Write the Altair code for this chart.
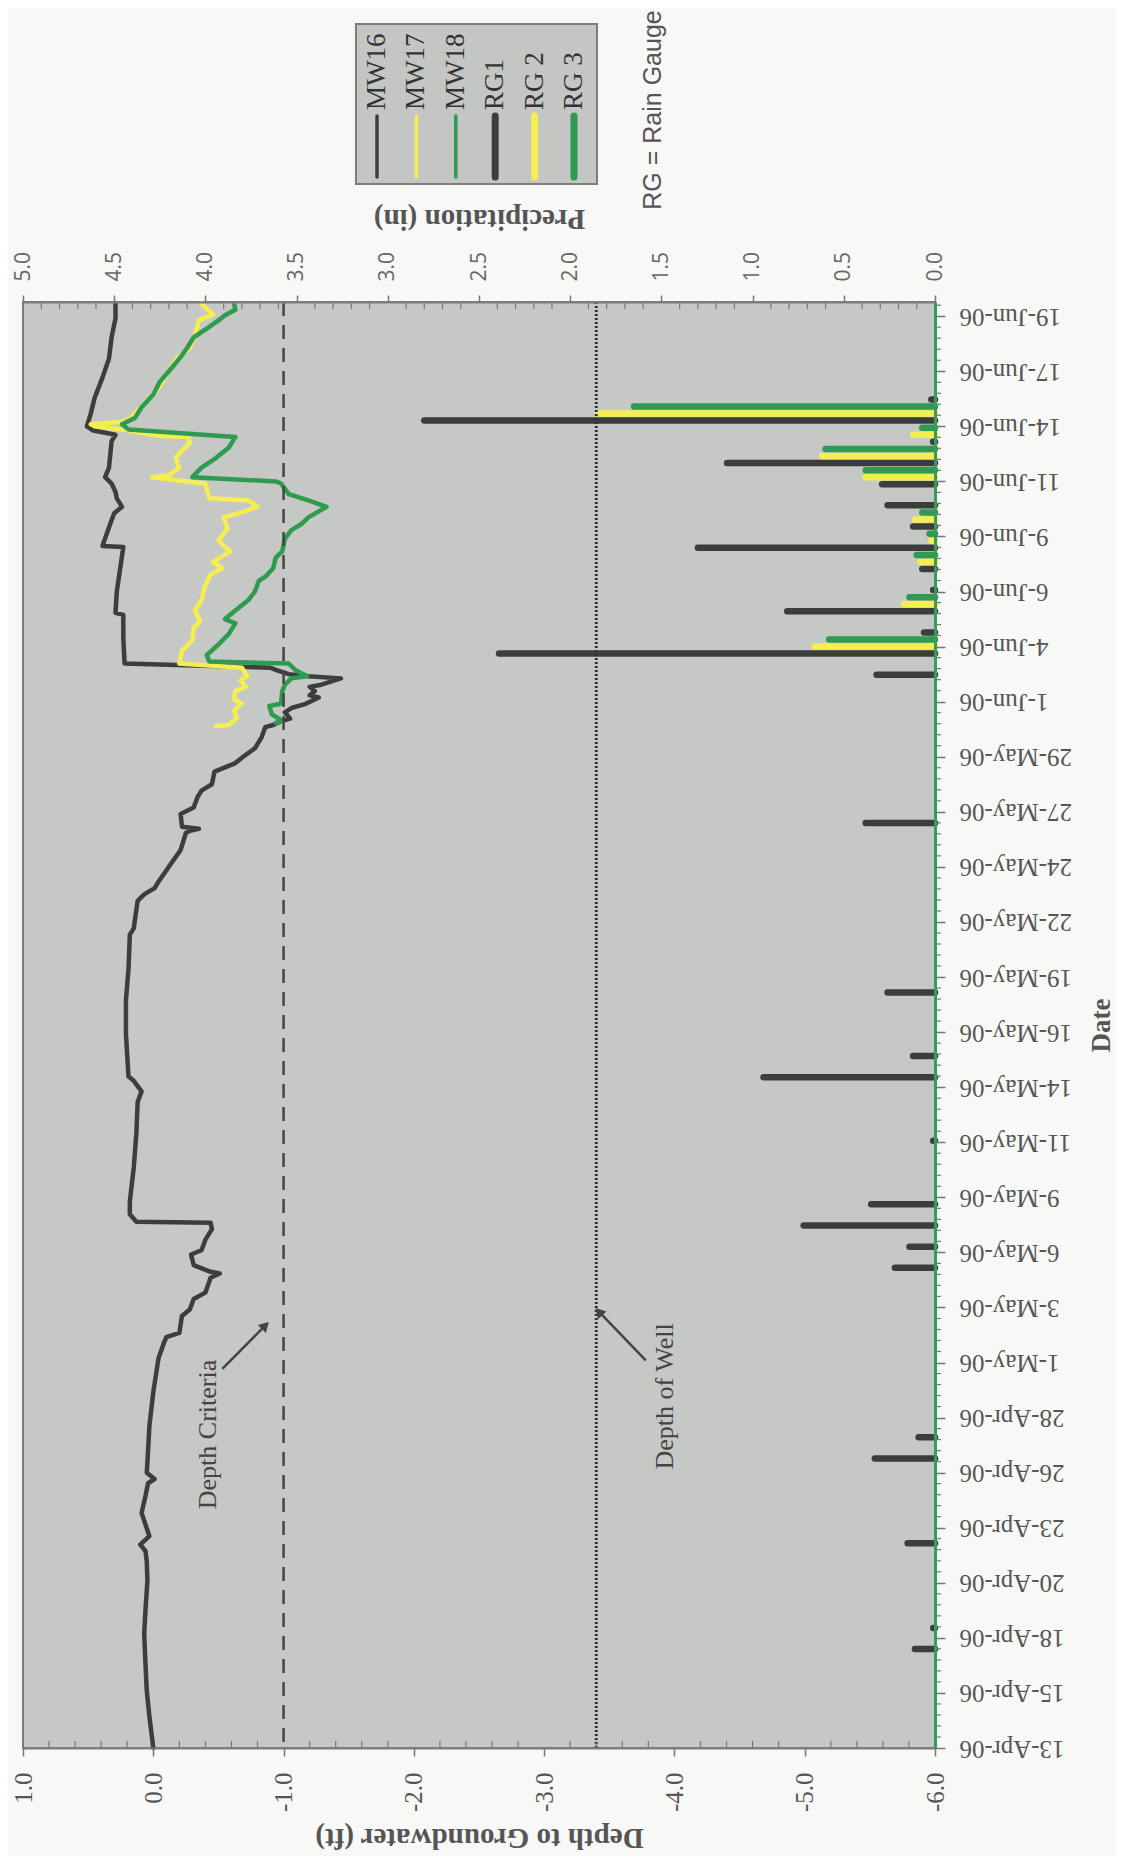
import altair as alt
import pandas as pd

# ---------------- values ----------------
series_names = ["MW16", "MW17", "MW18", "RG1", "RG 2", "RG 3"]
series_colors = ["#3b3e3b", "#f5ee50", "#2e9b50", "#3b3e3b", "#f5ee50", "#2e9b50"]
series_widths = [3.5, 3.5, 3.5, 7, 7, 7]

date_tick_labels = ["13-Apr-06", "15-Apr-06", "18-Apr-06", "20-Apr-06", "23-Apr-06",
                    "26-Apr-06", "28-Apr-06", "1-May-06", "3-May-06", "6-May-06",
                    "9-May-06", "11-May-06", "14-May-06", "16-May-06", "19-May-06",
                    "22-May-06", "24-May-06", "27-May-06", "29-May-06", "1-Jun-06",
                    "4-Jun-06", "6-Jun-06", "9-Jun-06", "11-Jun-06", "14-Jun-06",
                    "17-Jun-06", "19-Jun-06"]
depth_ticks = [1.0, 0.0, -1.0, -2.0, -3.0, -4.0, -5.0, -6.0]
precip_ticks = [0.0, 0.5, 1.0, 1.5, 2.0, 2.5, 3.0, 3.5, 4.0, 4.5, 5.0]

# elapsed days since 13-Apr-06 00:00 and depth to groundwater (ft)
mw16_days = [0.0, 1.5, 2.7, 4.0, 5.4, 6.5, 7.9, 8.8, 9.3, 9.6, 10.0, 11.1, 11.9, 12.5, 12.7,
             13.0, 13.5, 15.2, 16.8, 18.4, 19.1, 19.4, 19.6, 20.0, 20.4, 20.7, 21.2, 21.5,
             22.2, 22.4, 22.5, 22.8, 23.3, 23.5, 24.0, 24.5, 24.8, 24.85, 25.2, 25.8, 27.4,
             29.0, 30.5, 31.0, 31.5, 31.7, 33.7, 35.3, 36.8, 38.4, 38.7, 40.0, 40.3, 40.6,
             40.9, 41.7, 42.4, 43.2, 43.3, 43.4, 43.5, 44.1, 44.4, 44.9, 45.2, 45.5, 46.1,
             46.5, 46.8, 47.2, 47.7, 48.2, 48.3, 48.5, 48.6, 48.9, 49.1, 49.3, 49.6, 49.7,
             49.9, 50.1, 50.2, 50.5, 50.6, 50.7, 50.9, 51.0, 51.2, 52.4, 53.5, 53.6, 54.6,
             56.7, 56.75, 57.1, 57.8, 58.3, 58.6, 59.0, 59.3, 59.7, 60.0, 60.45, 61.7, 62.0,
             62.2, 62.4, 63.0, 63.75, 64.7, 65.6, 66.6, 67.5, 68.2]
mw16_depth = [0.0, 0.03, 0.05, 0.06, 0.07, 0.06, 0.045, 0.05, 0.06, 0.10, 0.03, 0.09, 0.06,
              0.04, -0.01, 0.05, 0.045, 0.03, 0.0, -0.04, -0.08, -0.10, -0.20, -0.21, -0.22,
              -0.28, -0.31, -0.40, -0.44, -0.51, -0.43, -0.31, -0.29, -0.37, -0.40, -0.45,
              -0.44, 0.13, 0.18, 0.18, 0.15, 0.13, 0.12, 0.09, 0.15, 0.19, 0.21, 0.21, 0.19,
              0.18, 0.15, 0.12, 0.07, -0.01, -0.04, -0.13, -0.21, -0.25, -0.28, -0.35, -0.22,
              -0.21, -0.31, -0.34, -0.37, -0.45, -0.47, -0.63, -0.69, -0.78, -0.83, -0.86,
              -0.92, -0.99, -1.05, -1.01, -1.06, -1.17, -1.27, -1.20, -1.24, -1.20, -1.29,
              -1.44, -1.19, -1.04, -0.94, -0.90, 0.22, 0.23, 0.23, 0.29, 0.28, 0.23, 0.39,
              0.37, 0.33, 0.30, 0.24, 0.28, 0.29, 0.32, 0.37, 0.34, 0.32, 0.29, 0.46, 0.51,
              0.48, 0.45, 0.39, 0.34, 0.32, 0.29, 0.29]

mw17_days = [48.25, 48.3, 48.6, 49.0, 49.3, 49.5, 49.9, 50.1, 50.4, 50.6, 51.0, 51.2, 51.8,
             52.3, 52.9, 53.2, 53.7, 54.2, 54.9, 55.4, 55.7, 56.0, 56.5, 57.0, 57.6, 58.1,
             58.3, 58.6, 58.9, 59.0, 59.7, 59.75, 60.0, 60.1, 60.45, 60.9, 61.2, 61.6, 61.9,
             61.95, 62.2, 62.4, 62.5, 62.6, 62.75, 63.6, 64.2, 65.0, 65.6, 66.1, 66.7, 67.4,
             67.7, 68.0, 68.2]
mw17_depth = [-0.48, -0.58, -0.64, -0.62, -0.68, -0.62, -0.63, -0.71, -0.67, -0.72, -0.68,
              -0.20, -0.22, -0.30, -0.31, -0.36, -0.32, -0.37, -0.40, -0.44, -0.53, -0.46,
              -0.59, -0.50, -0.57, -0.54, -0.66, -0.80, -0.73, -0.43, -0.40, -0.32, 0.01,
              -0.12, -0.20, -0.17, -0.21, -0.28, -0.27, -0.03, 0.19, 0.45, 0.48, 0.24, 0.18,
              0.05, -0.04, -0.12, -0.18, -0.28, -0.32, -0.35, -0.46, -0.40, -0.37]

mw18_days = [48.4, 48.5, 48.8, 49.2, 49.3, 49.9, 50.2, 50.5, 50.6, 50.9, 51.2, 51.3, 51.6,
             52.1, 52.6, 53.1, 53.3, 53.7, 54.2, 54.6, 55.1, 55.3, 55.7, 56.2, 56.5, 57.1,
             57.5, 57.8, 58.1, 58.6, 58.9, 59.2, 59.7, 59.8, 60.0, 60.45, 60.9, 61.4, 61.9,
             62.25, 62.5, 62.8, 63.3, 63.9, 64.5, 65.0, 65.6, 66.1, 66.6, 67.1, 67.4, 67.65,
             67.9, 68.2]
mw18_depth = [-0.94, -0.99, -0.91, -0.89, -0.98, -0.99, -1.01, -1.06, -1.18, -1.09, -1.04,
              -0.43, -0.41, -0.50, -0.58, -0.63, -0.55, -0.63, -0.73, -0.78, -0.81, -0.86,
              -0.92, -0.94, -0.99, -1.01, -1.06, -1.14, -1.19, -1.33, -1.19, -1.04, -0.98,
              -0.94, -0.30, -0.37, -0.48, -0.58, -0.63, 0.19, 0.24, 0.14, 0.09, 0.00, -0.05,
              -0.12, -0.20, -0.26, -0.31, -0.43, -0.50, -0.55, -0.63, -0.62]

rain_dates = ["2006-04-18", "2006-04-19", "2006-04-23", "2006-04-27", "2006-04-28",
              "2006-05-06", "2006-05-07", "2006-05-08", "2006-05-09", "2006-05-12",
              "2006-05-15", "2006-05-16", "2006-05-19", "2006-05-27", "2006-06-03",
              "2006-06-04", "2006-06-05", "2006-06-06", "2006-06-07", "2006-06-08",
              "2006-06-09", "2006-06-10", "2006-06-11", "2006-06-12", "2006-06-13",
              "2006-06-14", "2006-06-15", "2006-06-16"]
rg1_in = [0.11, 0.01, 0.15, 0.33, 0.09, 0.22, 0.14, 0.72, 0.35, 0.01, 0.94, 0.12, 0.26, 0.38,
          0.32, 2.39, 0.06, 0.81, 0.01, 0.07, 1.30, 0.12, 0.26, 0.29, 1.14, 0.01, 2.80, 0.02]
rg2_in = [None, None, None, None, None, None, None, None, None, None, None, None, None, None,
          None, 0.66, None, 0.17, None, 0.08, 0.02, 0.11, None, 0.38, 0.62, 0.12, 1.85, None]
rg3_in = [None, None, None, None, None, None, None, None, None, None, None, None, None, None,
          None, 0.58, None, 0.14, None, 0.10, 0.03, 0.07, None, 0.38, 0.60, 0.07, 1.65, None]

depth_criteria = [-1.0]
depth_of_well = [-3.4]

annot_text = ["Depth Criteria", "Depth of Well"]
annot_depth = [-0.42, -3.93]
annot_days = [14.8, 16.6]
arrow_from_depth = [-0.53, -3.78]
arrow_from_days = [17.9, 18.3]
arrow_to_depth = [-0.86, -3.42]
arrow_to_days = [19.95, 20.6]
arrow_angle = [45, 317]

# ---------------- layout / helpers ----------------
W, H = 912, 1446
START = pd.Timestamp("2006-04-13")      # date axis origin (day 0)
TICK_STEP = 2.6                         # days between labelled ticks
DAY_MAX = 68.27                         # end of the date axis (days after origin)

day_scale = alt.Scale(domain=[0, DAY_MAX], nice=False, zero=False)
depth_scale = alt.Scale(domain=[-6, 1], reverse=True, nice=False, zero=False)
precip_scale = alt.Scale(domain=[0, 5], reverse=True, nice=False, zero=False)

tick_days = [round(k * TICK_STEP, 3) for k in range(len(date_tick_labels))]
# label lookup written as a chain of comparisons (tick k -> date_tick_labels[k])
date_label_expr = " : ".join(
    f"datum.value < {(k + 0.5) * TICK_STEP:.3f} ? '{lab}'"
    for k, lab in enumerate(date_tick_labels[:-1])
) + f" : '{date_tick_labels[-1]}'"

date_axis = alt.Axis(
    orient="right", values=tick_days, labelExpr=date_label_expr,
    labelAngle=180, labelAlign="right", labelBaseline="middle",
    labelFont="Liberation Serif", labelFontSize=25, labelColor="#555555",
    labelPadding=14, labelOverlap=False, labelFlush=False,
    tickSize=10, tickColor="#777777", tickWidth=1.5,
    domainColor="#3a9a5a", domainWidth=3, grid=False, zindex=2,
    title="Date", titleAngle=270, titleFont="Liberation Serif", titleFontWeight="bold",
    titleFontSize=27, titleColor="#555555", titleAlign="center", titleBaseline="middle",
    titleX=166, titleY=H / 2)

depth_axis = alt.Axis(
    orient="bottom", values=depth_ticks,
    labelExpr="replace(format(datum.value, '.1f'), '\u2212', '-')",
    labelAngle=270, labelAlign="right", labelBaseline="middle",
    labelFont="Liberation Serif", labelFontSize=25, labelColor="#555555",
    labelPadding=16, labelOverlap=False, labelFlush=False,
    tickSize=8, tickColor="#777777", tickWidth=1.5,
    domainColor="#7d7d7d", domainWidth=2, grid=False, zindex=2,
    title="Depth to Groundwater (ft)", titleFont="Liberation Serif", titleFontSize=29,
    titleFontWeight="bold", titleColor="#555555", titleAngle=180, titleAlign="center",
    titleBaseline="middle", titleX=W / 2, titleY=89)

precip_axis = alt.Axis(
    orient="top", values=precip_ticks, format=".1f",
    labelAngle=270, labelAlign="left", labelBaseline="middle",
    labelFont="Open Sans", labelFontSize=21, labelColor="#666666",
    labelPadding=14, labelOverlap=False, labelFlush=False,
    tickSize=7, tickColor="#777777", tickWidth=1.5,
    domainColor="#7d7d7d", domainWidth=2, grid=False, zindex=2,
    title="Precipitation (in)", titleFont="Liberation Serif", titleFontSize=29,
    titleFontWeight="bold", titleColor="#555555", titleAngle=180, titleAlign="center",
    titleBaseline="middle", titleX=W / 2, titleY=-84)

# ---------------- tables ----------------
rows = []
for name, days, depth in [("MW16", mw16_days, mw16_depth),
                          ("MW17", mw17_days, mw17_depth),
                          ("MW18", mw18_days, mw18_depth)]:
    for i, (t, d) in enumerate(zip(days, depth)):
        rows.append({"series": name, "day": t, "depth": d, "idx": i})
lines_df = pd.DataFrame(rows)

rain_day = [(pd.Timestamp(s) - START).days for s in rain_dates]


def rain_df(values):
    df = pd.DataFrame({"day": rain_day, "precip": values})
    df = df.dropna().reset_index(drop=True)
    df["zero"] = 0.0
    return df


def Y(field="day"):
    # every layer carries the same (shared) date axis so the merged axis stays enabled
    return alt.Y(f"{field}:Q", scale=day_scale, axis=date_axis)


# ---------------- precipitation layers ----------------
gauge_offsets = [7, 0, -7]
rain_layers = []
for k, vals in enumerate([rg1_in, rg2_in, rg3_in]):
    rain_layers.append(
        alt.Chart(rain_df(vals)).mark_rule(
            strokeWidth=6.5, strokeCap="round", color=series_colors[3 + k],
            yOffset=gauge_offsets[k]
        ).encode(
            x=alt.X("precip:Q", scale=precip_scale,
                    axis=precip_axis if k == 0 else None),
            x2=alt.X2("zero"),
            y=Y(),
        )
    )

precip_minor = [round(0.1 * k, 1) for k in range(51) if k % 5 != 0]
precip_minor_layer = alt.Chart(pd.DataFrame({"precip": precip_minor})).mark_rule(
    color="#777777", strokeWidth=1.2
).encode(
    x=alt.X("precip:Q", scale=precip_scale, axis=None),
    y=alt.value(0), y2=alt.value(7),
)

# ---------------- depth layers ----------------
lines = alt.Chart(lines_df).mark_line(
    strokeWidth=4.5, strokeJoin="round", strokeCap="round"
).encode(
    x=alt.X("depth:Q", scale=depth_scale, axis=depth_axis),
    y=Y(),
    color=alt.Color("series:N",
                    scale=alt.Scale(domain=series_names[:3], range=series_colors[:3]),
                    legend=None),
    order=alt.Order("idx:Q"),
)

criteria_rule = alt.Chart(pd.DataFrame({"depth": depth_criteria})).mark_rule(
    color="#454545", strokeWidth=2.5, strokeDash=[14, 9]
).encode(x=alt.X("depth:Q", scale=depth_scale, axis=None))

well_rule = alt.Chart(pd.DataFrame({"depth": depth_of_well})).mark_rule(
    color="#333333", strokeWidth=3, strokeDash=[2, 2]
).encode(x=alt.X("depth:Q", scale=depth_scale, axis=None))

annot_df = pd.DataFrame({"label": annot_text, "depth": annot_depth, "day": annot_days})
annot_layer = alt.Chart(annot_df).mark_text(
    angle=270, align="center", baseline="middle", font="Liberation Serif",
    fontSize=26, color="#444444"
).encode(
    x=alt.X("depth:Q", scale=depth_scale, axis=None),
    y=Y(),
    text="label:N",
)

arrow_df = pd.DataFrame({"depth": arrow_from_depth, "day": arrow_from_days,
                         "depth2": arrow_to_depth, "day2": arrow_to_days,
                         "ang": arrow_angle})
arrow_lines = alt.Chart(arrow_df).mark_rule(color="#444444", strokeWidth=2.5).encode(
    x=alt.X("depth:Q", scale=depth_scale, axis=None),
    x2=alt.X2("depth2"),
    y=Y(),
    y2=alt.Y2("day2"),
)
arrow_heads = alt.Chart(arrow_df).mark_point(
    shape="triangle-up", filled=True, size=130, color="#444444", opacity=1
).encode(
    x=alt.X("depth2:Q", scale=depth_scale, axis=None),
    y=Y("day2"),
    angle=alt.Angle("ang:Q", scale=None),
)

depth_minor = [round(-6 + 0.2 * k, 1) for k in range(36) if k % 5 != 0]
depth_minor_layer = alt.Chart(pd.DataFrame({"depth": depth_minor})).mark_rule(
    color="#777777", strokeWidth=1.2
).encode(
    x=alt.X("depth:Q", scale=depth_scale, axis=None),
    y=alt.value(H - 7), y2=alt.value(H),
)

date_minor = [round(k * TICK_STEP / 5, 3) for k in range(132)
              if k % 5 != 0 and k * TICK_STEP / 5 <= DAY_MAX]
date_minor_layer = alt.Chart(pd.DataFrame({"day": date_minor})).mark_rule(
    color="#777777", strokeWidth=1.2
).encode(
    x=alt.value(W), x2=alt.value(W + 6),
    y=Y(),
)

# ---------------- legend (rotated, drawn manually) ----------------
legend_df = pd.DataFrame({"i": list(range(6)), "name": series_names,
                          "col": series_colors, "w": series_widths})
one = pd.DataFrame({"a": [0]})
legend_box = alt.Chart(one).mark_rect(
    fill="#c3c6c3", stroke="#7d7d7d", strokeWidth=2
).encode(x=alt.value(333), x2=alt.value(574), y=alt.value(-278), y2=alt.value(-118))
legend_x = alt.X("i:Q", scale=alt.Scale(domain=[0, 5], range=[354, 551]), axis=None)
legend_sym = alt.Chart(legend_df).mark_rule(strokeCap="round").encode(
    x=legend_x, y=alt.value(-186), y2=alt.value(-125),
    color=alt.Color("col:N", scale=None),
    strokeWidth=alt.StrokeWidth("w:Q", scale=None),
)
legend_txt = alt.Chart(legend_df).mark_text(
    angle=270, align="left", baseline="middle", font="Liberation Serif",
    fontSize=27, color="#333333"
).encode(x=legend_x, y=alt.value(-192), text="name:N")
rg_note = alt.Chart(one).mark_text(
    angle=270, align="center", baseline="middle", font="Liberation Sans",
    fontSize=25, color="#555555", text="RG = Rain Gauge"
).encode(x=alt.value(630), y=alt.value(-192))

chart = alt.layer(
    lines, *rain_layers, precip_minor_layer,
    criteria_rule, well_rule, annot_layer, arrow_lines, arrow_heads,
    depth_minor_layer, date_minor_layer,
    legend_box, legend_sym, legend_txt, rg_note,
).resolve_scale(
    x="independent"
).properties(
    width=W, height=H,
    autosize=alt.AutoSizeParams(type="none"),
    padding={"left": 15, "top": 294, "right": 181, "bottom": 108},
    background="#f8f8f6",
).configure_view(
    fill="#c5c8c5", stroke="#7d7d7d", strokeWidth=2
)

chart.save("out.html", embed_options={"renderer": "svg", "actions": False})
